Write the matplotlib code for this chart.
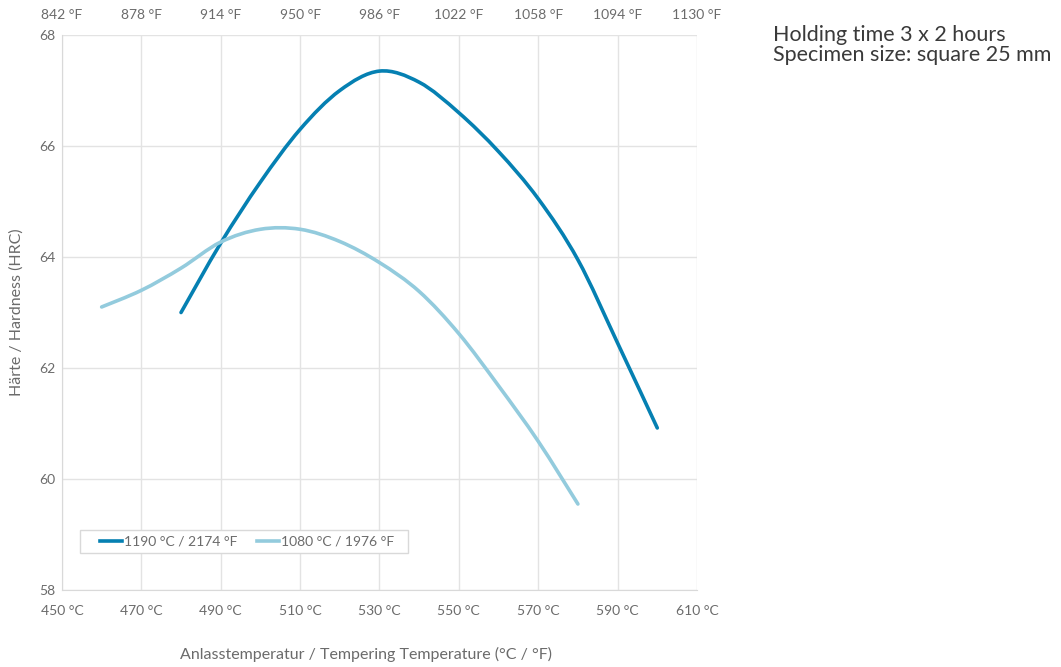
import matplotlib
matplotlib.use("Agg")
import matplotlib.pyplot as plt
from matplotlib.path import Path
from matplotlib.patches import PathPatch, Rectangle
from matplotlib.lines import Line2D

plt.rcParams['font.family'] = ['Lato', 'DejaVu Sans']

# Tempering temperature (°C) and hardness (HRC)
temp_1190 = [480, 490, 500, 510, 520, 530, 540, 550, 560, 570, 580, 590, 600]
hard_1190 = [63.0, 64.25, 65.35, 66.3, 67.0, 67.35, 67.15, 66.6, 65.9, 65.05, 63.95, 62.45, 60.92]

temp_1080 = [460, 470, 480, 490, 500, 510, 520, 530, 540, 550, 560, 570, 580]
hard_1080 = [63.1, 63.4, 63.8, 64.27, 64.5, 64.5, 64.28, 63.9, 63.38, 62.62, 61.68, 60.68, 59.55]

series_labels = ['1190 °C / 2174 °F', '1080 °C / 1976 °F']
x_ticks_c = [450, 470, 490, 510, 530, 550, 570, 590, 610]
x_ticks_f = [842, 878, 914, 950, 986, 1022, 1058, 1094, 1130]
y_ticks = [58, 60, 62, 64, 66, 68]

dark = '#0580B2'
light = '#93CBDD'
txt = '#6b6b6b'
grid = '#e3e3e3'


def smooth_path(xs, ys):
    """Smoothed line through the points (Catmull-Rom as cubic Bezier)."""
    pts = list(zip(xs, ys))
    n = len(pts)
    verts = [pts[0]]
    codes = [Path.MOVETO]
    for i in range(n - 1):
        p0 = pts[i - 1] if i > 0 else pts[i]
        p1 = pts[i]
        p2 = pts[i + 1]
        p3 = pts[i + 2] if i + 2 < n else pts[i + 1]
        c1 = (p1[0] + (p2[0] - p0[0]) / 6, p1[1] + (p2[1] - p0[1]) / 6)
        c2 = (p2[0] - (p3[0] - p1[0]) / 6, p2[1] - (p3[1] - p1[1]) / 6)
        verts += [c1, c2, p2]
        codes += [Path.CURVE4] * 3
    return Path(verts, codes)


fig = plt.figure(figsize=(10.61, 6.67), dpi=100)
ax = fig.add_axes([0.0584, 0.1154, 0.5985, 0.8321])

for xs, ys, col in [(temp_1190, hard_1190, dark), (temp_1080, hard_1080, light)]:
    ax.add_patch(PathPatch(smooth_path(xs, ys), facecolor='none', edgecolor=col,
                           lw=2.6, capstyle='round', zorder=3))

ax.set_xlim(450, 610)
ax.set_ylim(58, 68)
ax.set_xticks(x_ticks_c)
ax.set_xticklabels([f'{v} °C' for v in x_ticks_c])
ax.set_yticks(y_ticks)
ax.set_yticklabels([str(v) for v in y_ticks])
ax.grid(True, color=grid, lw=1)
ax.set_axisbelow(True)
for s in ['top', 'right']:
    ax.spines[s].set_visible(False)
for s in ['left', 'bottom']:
    ax.spines[s].set_color('#d9d9d9')
ax.tick_params(axis='x', length=0, labelsize=10, colors=txt, pad=11)
ax.tick_params(axis='y', length=0, labelsize=10, colors=txt, pad=5)

ax2 = ax.secondary_xaxis('top')
ax2.set_xticks(x_ticks_c)
ax2.set_xticklabels([f'{v} °F' for v in x_ticks_f])
ax2.tick_params(length=0, labelsize=10, colors=txt, pad=10)
ax2.spines['top'].set_visible(False)

ax.set_xlabel('Anlasstemperatur / Tempering Temperature (°C / °F)', fontsize=11.5, color=txt, labelpad=22)
ax.xaxis.set_label_coords(0.4787, -0.1025)
ax.set_ylabel('Härte / Hardness (HRC)', fontsize=11.5, color=txt, labelpad=11)

handles = [Line2D([], [], color=dark, lw=2.6), Line2D([], [], color=light, lw=2.6)]
leg = ax.legend(handles, series_labels, loc='center left', bbox_to_anchor=(0.0598, 0.0874),
                ncol=2, fontsize=10, frameon=False, handlelength=1.6, handletextpad=0.15,
                columnspacing=1.4, borderpad=0, borderaxespad=0)
for t in leg.get_texts():
    t.set_color(txt)
ax.add_patch(Rectangle((0.0283, 0.0667), 0.5165, 0.0414, transform=ax.transAxes,
                       facecolor='white', edgecolor='#d9d9d9', lw=1, zorder=4))
leg.set_zorder(5)

fig.text(0.7285, 1 - 41 / 667, 'Holding time 3 x 2 hours', fontsize=15.5,
         color='#3a3a3a', va='baseline', ha='left')
fig.text(0.7285, 1 - 61 / 667, 'Specimen size: square 25 mm', fontsize=15.5,
         color='#3a3a3a', va='baseline', ha='left')

fig.savefig('out.png', dpi=100)
